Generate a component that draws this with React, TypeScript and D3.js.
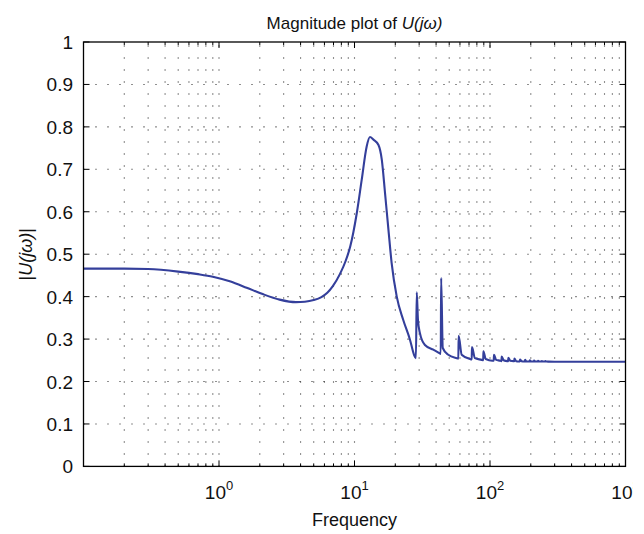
import React from "react";
import * as d3 from "d3";

const freq = [0.1, 0.2, 0.3, 0.5, 0.7, 0.9, 1.2, 1.6, 2.1, 2.8, 3.7, 4.3, 5.0, 5.7, 6.3, 6.9, 7.8, 8.6, 9.3, 10.4, 11.3, 12.3, 13.0, 13.8, 15.0, 15.9, 16.8, 17.8, 18.8, 20.5, 22.9, 25.7, 27.5, 28.4, 28.8, 29.4, 30.4, 33.1, 38.2, 42.3, 43.3, 43.6, 44.8, 49.2, 56.8, 58.4, 58.7, 61.8, 71.2, 73.3, 73.6, 77.4, 86.8, 89.1, 89.4, 93, 104, 106.5, 107, 111, 119, 121.5, 122, 126, 134, 136, 136.5, 141, 149, 151, 151.5, 156, 164, 166, 166.5, 171, 179, 181, 181.5, 186, 194, 196, 196.5, 201, 209, 211, 211.5, 216, 224, 226, 226.5, 231, 239, 241, 241.5, 246, 254, 256, 256.5, 261, 270, 300, 400, 600, 1000];
const mag = [0.466, 0.466, 0.465, 0.459, 0.453, 0.447, 0.436, 0.421, 0.406, 0.393, 0.387, 0.388, 0.392, 0.399, 0.409, 0.424, 0.453, 0.484, 0.518, 0.597, 0.675, 0.754, 0.776, 0.770, 0.758, 0.723, 0.644, 0.558, 0.479, 0.400, 0.345, 0.298, 0.263, 0.255, 0.410, 0.345, 0.314, 0.286, 0.275, 0.267, 0.265, 0.444, 0.279, 0.263, 0.255, 0.254, 0.308, 0.263, 0.253, 0.252, 0.281, 0.255, 0.251, 0.250, 0.271, 0.253, 0.249, 0.249, 0.263, 0.251, 0.249, 0.248, 0.259, 0.250, 0.248, 0.248, 0.256, 0.249, 0.248, 0.248, 0.254, 0.248, 0.247, 0.247, 0.252, 0.248, 0.247, 0.247, 0.251, 0.247, 0.247, 0.247, 0.250, 0.247, 0.247, 0.247, 0.2495, 0.247, 0.247, 0.247, 0.249, 0.247, 0.247, 0.247, 0.2485, 0.247, 0.247, 0.247, 0.248, 0.247, 0.2468, 0.2466, 0.2465, 0.2465, 0.2465];

const yTicks = [0, 0.1, 0.2, 0.3, 0.4, 0.5, 0.6, 0.7, 0.8, 0.9, 1];
const yTickLabels = ["0", "0.1", "0.2", "0.3", "0.4", "0.5", "0.6", "0.7", "0.8", "0.9", "1"];
const decadeExps = [-1, 0, 1, 2, 3];
const labelExps = [0, 1, 2, 3];
const minorMult = [2, 3, 4, 5, 6, 7, 8, 9];

const W = 644, H = 534;
const L = 83.5, R = 625.5, T = 42, B = 466.4;
const font = "'Liberation Sans', Arial, Helvetica, sans-serif";
const lineColor = "#343f9b";

export default function App() {
  const x = d3.scaleLog().domain([0.1, 1000]).range([L, R]);
  const y = d3.scaleLinear().domain([0, 1]).range([B, T]);

  const pts: [number, number][] = freq.map((f, i) => [f, mag[i]]);
  const line = d3
    .line<[number, number]>()
    .x((d) => x(d[0]))
    .y((d) => y(d[1]))
    .curve(d3.curveMonotoneX);

  const minorVals: number[] = [];
  decadeExps.slice(0, 4).forEach((e) => {
    minorMult.forEach((m) => minorVals.push(m * Math.pow(10, e)));
  });
  const decadeVals = decadeExps.map((e) => Math.pow(10, e));
  const gridX = [...decadeVals.slice(1, 4), ...minorVals];
  const gridY = yTicks.slice(1, -1);

  return (
    <svg width={W} height={H} style={{ position: "absolute", left: 0, top: 0, background: "#fff" }} fontFamily={font}>
      <defs>
        <clipPath id="lblclip">
          <rect x={0} y={0} width={633} height={H} />
        </clipPath>
      </defs>
      <rect x={0} y={0} width={W} height={H} fill="#fff" />
      {/* grid */}
      <g stroke="#222" strokeWidth={1.1} strokeDasharray="1,11" fill="none">
        {gridX.map((v, i) => (
          <line key={"gx" + i} x1={x(v)} x2={x(v)} y1={B} y2={T} />
        ))}
        {gridY.map((v, i) => (
          <line key={"gy" + i} x1={L} x2={R} y1={y(v)} y2={y(v)} />
        ))}
      </g>
      {/* curve */}
      <path d={line(pts) || ""} fill="none" stroke={lineColor} strokeWidth={2.1} strokeLinejoin="round" />
      {/* box */}
      <rect x={L} y={T} width={R - L} height={B - T} fill="none" stroke="#000" strokeWidth={1.3} />
      {/* ticks */}
      <g stroke="#000" strokeWidth={1}>
        {decadeVals.map((v, i) => (
          <g key={"dt" + i}>
            <line x1={x(v)} x2={x(v)} y1={B} y2={B - 6} />
            <line x1={x(v)} x2={x(v)} y1={T} y2={T + 6} />
          </g>
        ))}
        {minorVals.map((v, i) => (
          <g key={"mt" + i}>
            <line x1={x(v)} x2={x(v)} y1={B} y2={B - 3} />
            <line x1={x(v)} x2={x(v)} y1={T} y2={T + 3} />
          </g>
        ))}
        {yTicks.map((v, i) => (
          <g key={"yt" + i}>
            <line x1={L} x2={L + 6} y1={y(v)} y2={y(v)} />
            <line x1={R} x2={R - 6} y1={y(v)} y2={y(v)} />
          </g>
        ))}
      </g>
      {/* y tick labels */}
      <g fontSize={19} fill="#111" textAnchor="end">
        {yTicks.map((v, i) => (
          <text key={"yl" + i} x={73} y={y(v) + 7}>
            {yTickLabels[i]}
          </text>
        ))}
      </g>
      {/* x tick labels */}
      <g fontSize={19} fill="#111" textAnchor="middle" clipPath="url(#lblclip)">
        {labelExps.map((e) => (
          <text key={"xl" + e} x={x(Math.pow(10, e))} y={499}>
            10
            <tspan dy={-9} fontSize={13}>
              {String(e)}
            </tspan>
          </text>
        ))}
      </g>
      {/* title */}
      <text x={(L + R) / 2} y={29} fontSize={17} textAnchor="middle" fill="#111">
        Magnitude plot of <tspan fontStyle="italic">U(jω)</tspan>
      </text>
      {/* x label */}
      <text x={(L + R) / 2} y={526} fontSize={18} textAnchor="middle" fill="#111">
        Frequency
      </text>
      {/* y label */}
      <text transform={`translate(32, ${(T + B) / 2}) rotate(-90)`} fontSize={18} textAnchor="middle" fill="#111">
        |<tspan fontStyle="italic">U(jω)</tspan>|
      </text>
    </svg>
  );
}
